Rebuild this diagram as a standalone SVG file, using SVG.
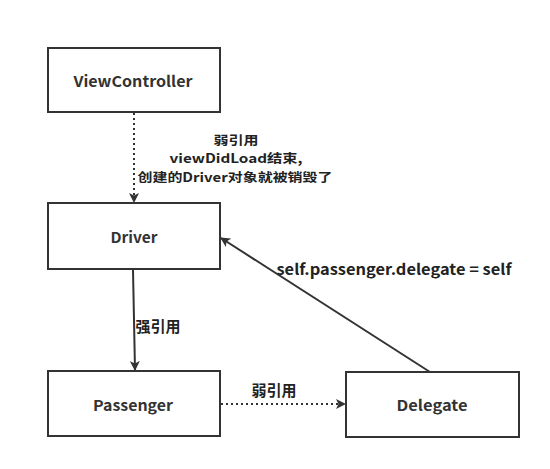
<svg xmlns="http://www.w3.org/2000/svg" width="550" height="469" viewBox="0 0 550 469">
<style>
.box{fill:#fff;stroke:#333;stroke-width:2}
.lbl{font-family:"Noto Sans CJK SC","Noto Sans","Liberation Sans",sans-serif;font-weight:bold;font-size:15px;fill:#333;text-anchor:middle;dominant-baseline:central}
.el{font-family:"Noto Sans CJK SC","Noto Sans","Liberation Sans",sans-serif;font-weight:bold;font-size:15px;fill:#222;text-anchor:middle;dominant-baseline:central}
.ml{font-size:12.5px}
.ln{fill:none;stroke:#333;stroke-width:2}
.dot{stroke-dasharray:2 3}
</style>
<defs>
<marker id="ah" markerWidth="10" markerHeight="10" refX="9" refY="5" orient="auto" markerUnits="userSpaceOnUse" viewBox="0 0 10 10">
<path d="M0,0 L10,5 L0,10 L2.5,5 Z" fill="#333"/>
</marker>
</defs>
<rect width="550" height="469" fill="#fff"/>
<g id="connectors">
<line class="ln dot" x1="134" y1="113" x2="134" y2="202" marker-end="url(#ah)"/>
<line class="ln" x1="133" y1="270" x2="135" y2="370" marker-end="url(#ah)"/>
<line class="ln dot" x1="221" y1="404" x2="345" y2="404" marker-end="url(#ah)"/>
<line class="ln" x1="430" y1="372" x2="221" y2="238" marker-end="url(#ah)"/>
<text class="el ml" x="236" y="139" textLength="45" lengthAdjust="spacingAndGlyphs">弱引用</text>
<text class="el ml" x="236" y="157.5" textLength="133" lengthAdjust="spacingAndGlyphs">viewDidLoad结束,</text>
<text class="el ml" x="235" y="176" textLength="195" lengthAdjust="spacingAndGlyphs">创建的Driver对象就被销毁了</text>
<text class="el" x="158" y="325">强引用</text>
<text class="el" x="274" y="389">弱引用</text>
<text class="el" x="394" y="268" textLength="235" lengthAdjust="spacingAndGlyphs">self.passenger.delegate = self</text>
</g>
<g id="viewcontroller">
<rect class="box" x="48" y="48" width="172" height="64"/>
<text class="lbl" x="133" y="80" textLength="119" lengthAdjust="spacingAndGlyphs">ViewController</text>
</g>
<g id="driver">
<rect class="box" x="48" y="203" width="172" height="66"/>
<text class="lbl" x="134" y="236" textLength="47" lengthAdjust="spacingAndGlyphs">Driver</text>
</g>
<g id="passenger">
<rect class="box" x="48" y="371" width="172" height="65"/>
<text class="lbl" x="133" y="404" textLength="80" lengthAdjust="spacingAndGlyphs">Passenger</text>
</g>
<g id="delegate">
<rect class="box" x="346" y="372" width="173" height="65"/>
<text class="lbl" x="432" y="404" textLength="71" lengthAdjust="spacingAndGlyphs">Delegate</text>
</g>
</svg>
